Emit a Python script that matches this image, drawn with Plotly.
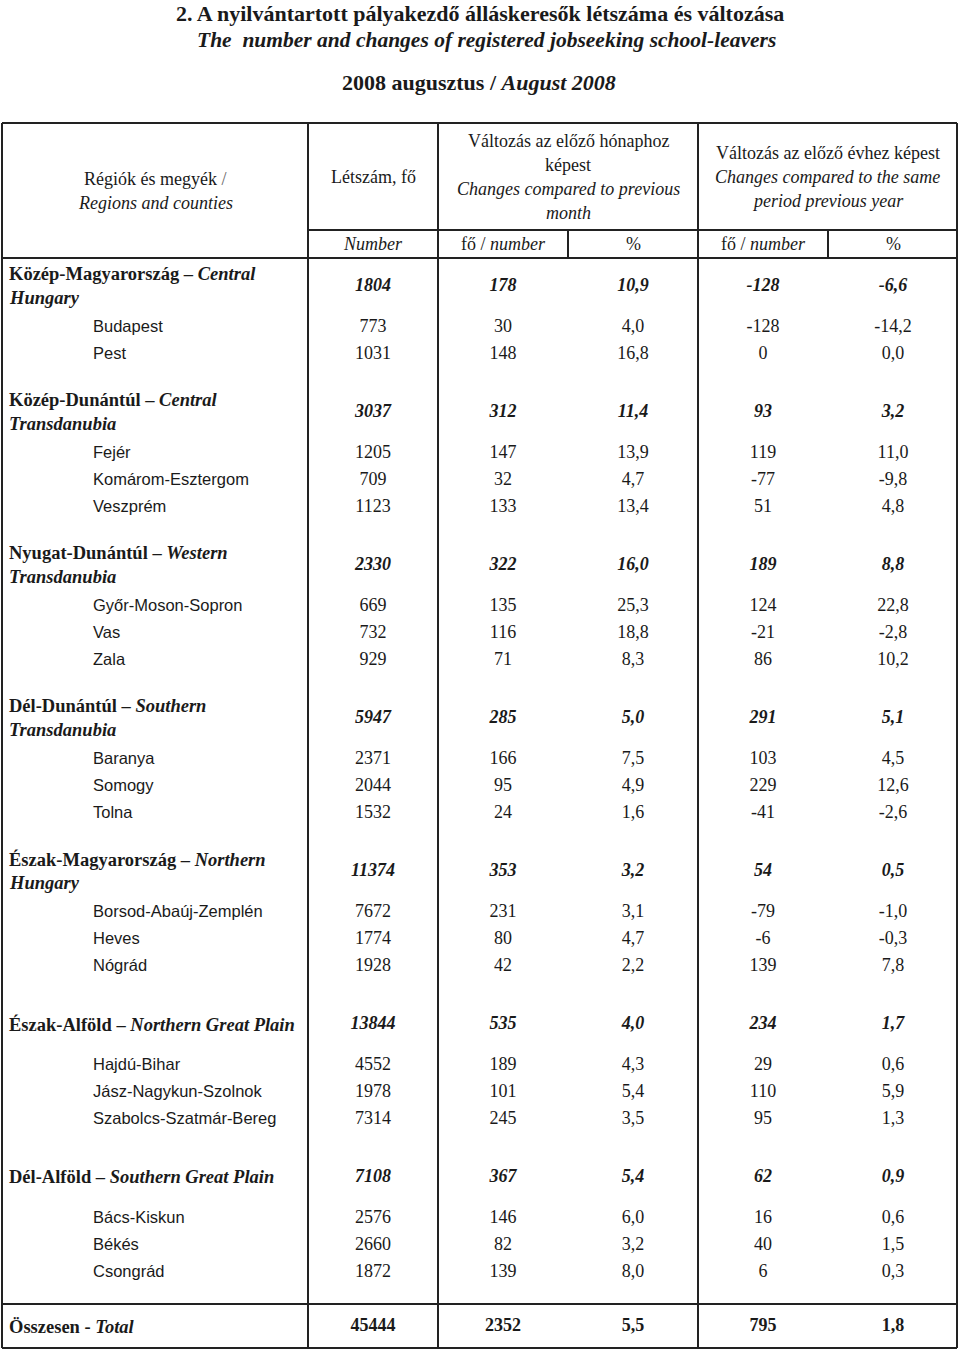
import plotly.graph_objects as go

# ---- data ----
title_hu = "2. A nyilvántartott pályakezdő álláskeresők létszáma és változása"
title_en = "The  number and changes of registered jobseeking school-leavers"
period_hu = "2008 augusztus"
period_en = "August 2008"

region_hu = ["Közép-Magyarország", "Közép-Dunántúl", "Nyugat-Dunántúl", "Dél-Dunántúl",
             "Észak-Magyarország", "Észak-Alföld", "Dél-Alföld"]
region_en = ["Central Hungary", "Central Transdanubia", "Western Transdanubia",
             "Southern Transdanubia", "Northern Hungary", "Northern Great Plain",
             "Southern Great Plain"]
region_wrap = [True, True, True, True, True, False, False]
region_count = [1804, 3037, 2330, 5947, 11374, 13844, 7108]
region_mom = [178, 312, 322, 285, 353, 535, 367]
region_mom_pct = [10.9, 11.4, 16.0, 5.0, 3.2, 4.0, 5.4]
region_yoy = [-128, 93, 189, 291, 54, 234, 62]
region_yoy_pct = [-6.6, 3.2, 8.8, 5.1, 0.5, 1.7, 0.9]

counties_per_region = [2, 3, 3, 3, 3, 3, 3]
county_names = ["Budapest", "Pest",
                "Fejér", "Komárom-Esztergom", "Veszprém",
                "Győr-Moson-Sopron", "Vas", "Zala",
                "Baranya", "Somogy", "Tolna",
                "Borsod-Abaúj-Zemplén", "Heves", "Nógrád",
                "Hajdú-Bihar", "Jász-Nagykun-Szolnok", "Szabolcs-Szatmár-Bereg",
                "Bács-Kiskun", "Békés", "Csongrád"]
county_count = [773, 1031, 1205, 709, 1123, 669, 732, 929, 2371, 2044, 1532,
                7672, 1774, 1928, 4552, 1978, 7314, 2576, 2660, 1872]
county_mom = [30, 148, 147, 32, 133, 135, 116, 71, 166, 95, 24,
              231, 80, 42, 189, 101, 245, 146, 82, 139]
county_mom_pct = [4.0, 16.8, 13.9, 4.7, 13.4, 25.3, 18.8, 8.3, 7.5, 4.9, 1.6,
                  3.1, 4.7, 2.2, 4.3, 5.4, 3.5, 6.0, 3.2, 8.0]
county_yoy = [-128, 0, 119, -77, 51, 124, -21, 86, 103, 229, -41,
              -79, -6, 139, 29, 110, 95, 16, 40, 6]
county_yoy_pct = [-14.2, 0.0, 11.0, -9.8, 4.8, 22.8, -2.8, 10.2, 4.5, 12.6, -2.6,
                  -1.0, -0.3, 7.8, 0.6, 5.9, 1.3, 0.6, 1.5, 0.3]

total_hu = "Összesen"
total_en = "Total"
total_values = [45444, 2352, 5.5, 795, 1.8]

# ---- layout constants ----
W, H = 960, 1351
SERIF = "Liberation Serif, Times New Roman, serif"
SANS = "Liberation Sans, Arial, sans-serif"
INK = "#1a1a1a"
col_x = [373, 503, 633, 763, 893]
x_left, x_c1, x_c2, x_c3, x_right = 2, 308, 438, 698, 957
x_sub2, x_sub3 = 568, 828
y_top, y_head, y_sub, y_tot, y_bot = 123, 230, 258, 1304, 1348


def fmt(v):
    if isinstance(v, float):
        return f"{v:.1f}".replace(".", ",")
    return str(v)


# row positions
region_y, county_y = [], []
y = 286
for r, n in enumerate(counties_per_region):
    region_y.append(y)
    yy = y + 41.5
    for k in range(n):
        county_y.append(yy)
        yy += 27
    y = yy - 27 + 57.5
total_y = county_y[-1] + 54

fig = go.Figure()

# numeric columns
region_cols = [region_count, region_mom, region_mom_pct, region_yoy, region_yoy_pct]
county_cols = [county_count, county_mom, county_mom_pct, county_yoy, county_yoy_pct]
for j in range(5):
    fig.add_trace(go.Scatter(
        x=[col_x[j]] * len(region_y), y=region_y, mode="text",
        text=[f"<b><i>{fmt(v)}</i></b>" for v in region_cols[j]],
        textposition="middle center",
        textfont=dict(family=SERIF, size=18, color=INK), hoverinfo="skip"))
    fig.add_trace(go.Scatter(
        x=[col_x[j]] * len(county_y), y=county_y, mode="text",
        text=[fmt(v) for v in county_cols[j]],
        textposition="middle center",
        textfont=dict(family=SERIF, size=18, color=INK), hoverinfo="skip"))
fig.add_trace(go.Scatter(
    x=col_x, y=[total_y] * 5, mode="text",
    text=[f"<b>{fmt(v)}</b>" for v in total_values],
    textposition="middle center",
    textfont=dict(family=SERIF, size=18, color=INK), hoverinfo="skip"))

# county names
fig.add_trace(go.Scatter(
    x=[93] * len(county_y), y=county_y, mode="text", text=county_names,
    textposition="middle right",
    textfont=dict(family=SANS, size=16.5, color=INK), hoverinfo="skip"))

ann = []


def text(x, y, s, size=18, family=SERIF, anchor="center", color=INK):
    ann.append(dict(x=x, y=y, xref="x", yref="y", text=s, showarrow=False,
                    xanchor=anchor, yanchor="middle",
                    font=dict(family=family, size=size, color=color)))


# titles
text(480, 13, f"<b>{title_hu}</b>", size=22)
text(486, 40, f"<b><i>{title_en}</i></b>", size=21.5)
text(479, 82, f"<b>{period_hu} / <i>{period_en}</i></b>", size=22)

# header
head = [
    ((x_left + x_c1) / 2, (y_top + y_sub) / 2,
     ["Régiók és megyék <span style='color:#666'>/</span>", "<i>Regions and counties</i>"]),
    ((x_c1 + x_c2) / 2, (y_top + y_head) / 2, ["Létszám, fő"]),
    ((x_c2 + x_c3) / 2, (y_top + y_head) / 2,
     ["Változás az előző hónaphoz", "képest", "<i>Changes compared to previous</i>", "<i>month</i>"]),
    ((x_c3 + x_right) / 2, (y_top + y_head) / 2,
     ["Változás az előző évhez képest", "<i>Changes compared to the same</i>", "<i>period previous year</i>"]),
]
for cx, cy, lines in head:
    n = len(lines)
    for i, s in enumerate(lines):
        text(cx, cy + 24 * (i - (n - 1) / 2), s)

sub_y = (y_head + y_sub) / 2
for cx, s in zip(col_x, ["<i>Number</i>", "fő / <i>number</i>", "%", "fő / <i>number</i>", "%"]):
    text(cx, sub_y, s)

# region labels
for r in range(len(region_hu)):
    if region_wrap[r]:
        first, last = region_en[r].rsplit(" ", 1)
        text(7, region_y[r] - 12, f"<b>{region_hu[r]} – <i>{first}</i></b>", anchor="left", size=18.5)
        text(7, region_y[r] + 12, f"<b><i>{last}</i></b>", anchor="left", size=18.5)
    else:
        text(7, region_y[r], f"<b>{region_hu[r]} – <i>{region_en[r]}</i></b>", anchor="left", size=18.5)
text(7, total_y, f"<b>{total_hu} - <i>{total_en}</i></b>", anchor="left", size=18.5)

# rules
shapes = []


def rule(x0, y0, x1, y1):
    shapes.append(dict(type="line", xref="x", yref="y", x0=x0, y0=y0, x1=x1, y1=y1,
                       line=dict(color="#222", width=2)))


for yy in (y_top, y_sub, y_tot, y_bot):
    rule(x_left, yy, x_right, yy)
rule(x_c1, y_head, x_right, y_head)
for xx in (x_left, x_c1, x_c2, x_c3, x_right):
    rule(xx, y_top, xx, y_bot)
for xx in (x_sub2, x_sub3):
    rule(xx, y_head, xx, y_sub)

fig.update_layout(
    width=W, height=H, margin=dict(l=0, r=0, t=0, b=0),
    paper_bgcolor="white", plot_bgcolor="white", showlegend=False,
    xaxis=dict(range=[0, W], visible=False, fixedrange=True),
    yaxis=dict(range=[H, 0], visible=False, fixedrange=True),
    annotations=ann, shapes=shapes,
)
fig.write_html("out.html", config={"displayModeBar": False},
               post_script="document.body.style.margin='0';")
